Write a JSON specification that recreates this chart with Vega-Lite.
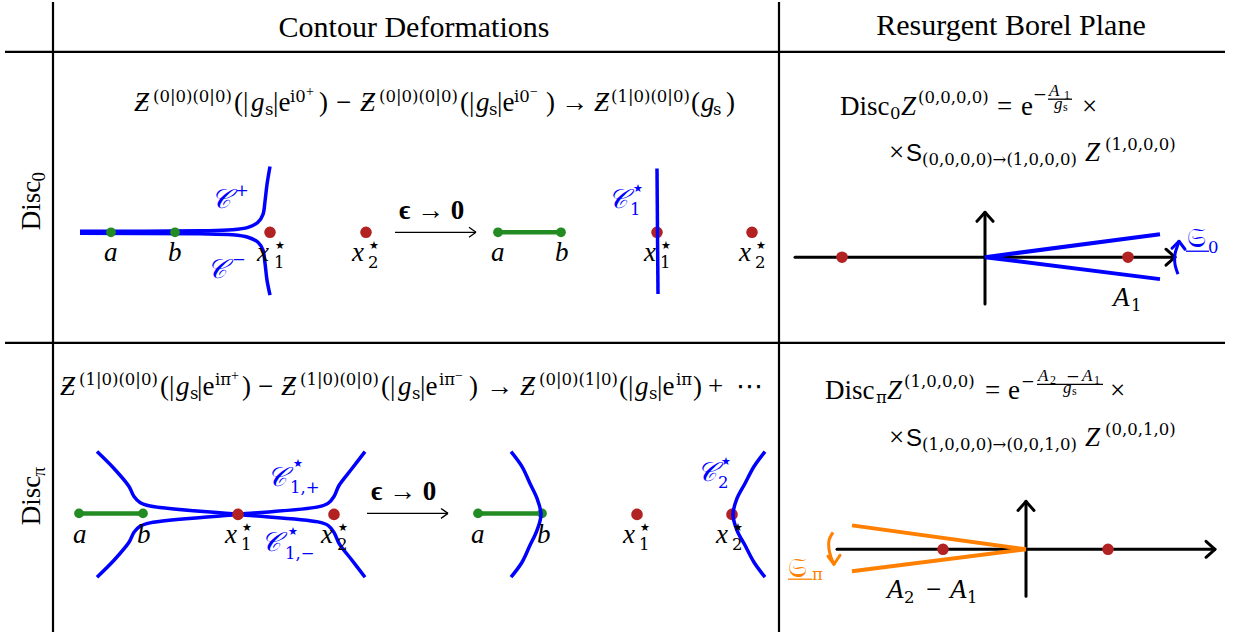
{
"$schema":"https://vega.github.io/schema/vega-lite/v6.json",
"width":1236,"height":639,
"autosize":{"type":"fit","contains":"padding"},
"padding":0,
"background":"#ffffff",
"config":{"view":{"stroke":null}},
"datasets":{
"seg":[
{"x":53,"y":0,"x2":53,"y2":632,"ink":"k","pen":"table"},
{"x":779,"y":0,"x2":779,"y2":632,"ink":"k","pen":"table"},
{"x":5,"y":50,"x2":1225,"y2":50,"ink":"k","pen":"table"},
{"x":5,"y":342,"x2":1225,"y2":342,"ink":"k","pen":"table"},
{"x":795,"y":256,"x2":1174,"y2":256,"ink":"k","pen":"axis"},
{"x":985,"y":303,"x2":985,"y2":212,"ink":"k","pen":"axis"},
{"x":837,"y":549,"x2":1214,"y2":549,"ink":"k","pen":"axis"},
{"x":1026,"y":596,"x2":1026,"y2":502,"ink":"k","pen":"axis"},
{"x":1175,"y":256,"x2":1166,"y2":248,"ink":"k","pen":"axis"},
{"x":1175,"y":256,"x2":1166,"y2":264,"ink":"k","pen":"axis"},
{"x":985,"y":211,"x2":977,"y2":220,"ink":"k","pen":"axis"},
{"x":985,"y":211,"x2":993,"y2":220,"ink":"k","pen":"axis"},
{"x":1215,"y":549,"x2":1206,"y2":541,"ink":"k","pen":"axis"},
{"x":1215,"y":549,"x2":1206,"y2":557,"ink":"k","pen":"axis"},
{"x":1026,"y":501,"x2":1018,"y2":510,"ink":"k","pen":"axis"},
{"x":1026,"y":501,"x2":1034,"y2":510,"ink":"k","pen":"axis"},
{"x":498,"y":231,"x2":561,"y2":231,"ink":"g","pen":"cut"},
{"x":79,"y":513,"x2":143,"y2":513,"ink":"g","pen":"cut"},
{"x":478,"y":513,"x2":542,"y2":513,"ink":"g","pen":"cut"},
{"x":985,"y":256,"x2":1160,"y2":233,"ink":"b","pen":"ray"},
{"x":985,"y":256,"x2":1160,"y2":278,"ink":"b","pen":"ray"},
{"x":1026,"y":549,"x2":852,"y2":525,"ink":"o","pen":"ray"},
{"x":1026,"y":549,"x2":852,"y2":571,"ink":"o","pen":"ray"},
{"x":1179,"y":240,"x2":1172,"y2":247,"ink":"b","pen":"arc"},
{"x":1179,"y":240,"x2":1185,"y2":248,"ink":"b","pen":"arc"},
{"x":834,"y":564,"x2":828,"y2":556,"ink":"o","pen":"arc"},
{"x":834,"y":564,"x2":840,"y2":555,"ink":"o","pen":"arc"},
{"x":395,"y":231,"x2":476,"y2":231,"ink":"k","pen":"thin"},
{"x":476,"y":231,"x2":469,"y2":226,"ink":"k","pen":"thin"},
{"x":476,"y":231,"x2":469,"y2":236,"ink":"k","pen":"thin"},
{"x":367,"y":513,"x2":448,"y2":513,"ink":"k","pen":"thin"},
{"x":448,"y":513,"x2":441,"y2":508,"ink":"k","pen":"thin"},
{"x":448,"y":513,"x2":441,"y2":518,"ink":"k","pen":"thin"},
{"x":1048,"y":97.5,"x2":1072,"y2":97.5,"ink":"k","pen":"thin"},
{"x":1037,"y":383.5,"x2":1103,"y2":383.5,"ink":"k","pen":"thin"},
{"x":1186,"y":250,"x2":1209,"y2":250,"ink":"b","pen":"thin"},
{"x":788,"y":579,"x2":812,"y2":579,"ink":"o","pen":"thin"},
{"x":657,"y":167,"x2":658,"y2":293,"ink":"b","pen":"over"}
],
"curve":[
{"id":"cp","i":0,"x":80,"y":230,"ink":"b","side":"L"},
{"id":"cp","i":1,"x":200,"y":229.5,"ink":"b","side":"L"},
{"id":"cp","i":2,"x":232,"y":228.5,"ink":"b","side":"L"},
{"id":"cp","i":3,"x":248,"y":226,"ink":"b","side":"L"},
{"id":"cp","i":4,"x":258,"y":221,"ink":"b","side":"L"},
{"id":"cp","i":5,"x":263,"y":213,"ink":"b","side":"L"},
{"id":"cp","i":6,"x":265,"y":200,"ink":"b","side":"L"},
{"id":"cp","i":7,"x":267,"y":183,"ink":"b","side":"L"},
{"id":"cp","i":8,"x":270,"y":165,"ink":"b","side":"L"},
{"id":"cm","i":0,"x":80,"y":232,"ink":"b","side":"L"},
{"id":"cm","i":1,"x":200,"y":232.5,"ink":"b","side":"L"},
{"id":"cm","i":2,"x":232,"y":233.5,"ink":"b","side":"L"},
{"id":"cm","i":3,"x":248,"y":236,"ink":"b","side":"L"},
{"id":"cm","i":4,"x":258,"y":241,"ink":"b","side":"L"},
{"id":"cm","i":5,"x":263,"y":249,"ink":"b","side":"L"},
{"id":"cm","i":6,"x":265,"y":262,"ink":"b","side":"L"},
{"id":"cm","i":7,"x":267,"y":279,"ink":"b","side":"L"},
{"id":"cm","i":8,"x":270,"y":294,"ink":"b","side":"L"},
{"id":"c1p","i":0,"x":97,"y":451,"ink":"b","side":"L"},
{"id":"c1p","i":1,"x":114,"y":468,"ink":"b","side":"L"},
{"id":"c1p","i":2,"x":129,"y":486,"ink":"b","side":"L"},
{"id":"c1p","i":3,"x":134,"y":496,"ink":"b","side":"L"},
{"id":"c1p","i":4,"x":140,"y":502,"ink":"b","side":"L"},
{"id":"c1p","i":5,"x":150,"y":505.5,"ink":"b","side":"L"},
{"id":"c1p","i":6,"x":238,"y":514,"ink":"b","side":"L"},
{"id":"c1p","i":7,"x":318,"y":521.5,"ink":"b","side":"L"},
{"id":"c1p","i":8,"x":328,"y":525,"ink":"b","side":"L"},
{"id":"c1p","i":9,"x":334,"y":532,"ink":"b","side":"L"},
{"id":"c1p","i":10,"x":339,"y":543,"ink":"b","side":"L"},
{"id":"c1p","i":11,"x":352,"y":560,"ink":"b","side":"L"},
{"id":"c1p","i":12,"x":365,"y":577,"ink":"b","side":"L"},
{"id":"c1m","i":0,"x":97,"y":577,"ink":"b","side":"L"},
{"id":"c1m","i":1,"x":114,"y":560,"ink":"b","side":"L"},
{"id":"c1m","i":2,"x":129,"y":542,"ink":"b","side":"L"},
{"id":"c1m","i":3,"x":134,"y":532,"ink":"b","side":"L"},
{"id":"c1m","i":4,"x":140,"y":526,"ink":"b","side":"L"},
{"id":"c1m","i":5,"x":150,"y":522.5,"ink":"b","side":"L"},
{"id":"c1m","i":6,"x":238,"y":514,"ink":"b","side":"L"},
{"id":"c1m","i":7,"x":318,"y":506.5,"ink":"b","side":"L"},
{"id":"c1m","i":8,"x":328,"y":503,"ink":"b","side":"L"},
{"id":"c1m","i":9,"x":334,"y":496,"ink":"b","side":"L"},
{"id":"c1m","i":10,"x":339,"y":485,"ink":"b","side":"L"},
{"id":"c1m","i":11,"x":352,"y":468,"ink":"b","side":"L"},
{"id":"c1m","i":12,"x":365,"y":451,"ink":"b","side":"L"},
{"id":"arcb","i":0,"x":511,"y":451,"ink":"b","side":"R"},
{"id":"arcb","i":1,"x":522,"y":466,"ink":"b","side":"R"},
{"id":"arcb","i":2,"x":530,"y":483,"ink":"b","side":"R"},
{"id":"arcb","i":3,"x":537,"y":498,"ink":"b","side":"R"},
{"id":"arcb","i":4,"x":541,"y":514,"ink":"b","side":"R"},
{"id":"arcb","i":5,"x":537,"y":530,"ink":"b","side":"R"},
{"id":"arcb","i":6,"x":530,"y":545,"ink":"b","side":"R"},
{"id":"arcb","i":7,"x":522,"y":562,"ink":"b","side":"R"},
{"id":"arcb","i":8,"x":511,"y":577,"ink":"b","side":"R"},
{"id":"arc2","i":0,"x":765,"y":451,"ink":"b","side":"R"},
{"id":"arc2","i":1,"x":754,"y":466,"ink":"b","side":"R"},
{"id":"arc2","i":2,"x":745,"y":483,"ink":"b","side":"R"},
{"id":"arc2","i":3,"x":737,"y":498,"ink":"b","side":"R"},
{"id":"arc2","i":4,"x":733,"y":514,"ink":"b","side":"R"},
{"id":"arc2","i":5,"x":737,"y":530,"ink":"b","side":"R"},
{"id":"arc2","i":6,"x":745,"y":545,"ink":"b","side":"R"},
{"id":"arc2","i":7,"x":754,"y":562,"ink":"b","side":"R"},
{"id":"arc2","i":8,"x":765,"y":577,"ink":"b","side":"R"},
{"id":"s0","i":0,"x":1178,"y":273,"ink":"b","side":"A"},
{"id":"s0","i":1,"x":1175,"y":263,"ink":"b","side":"A"},
{"id":"s0","i":2,"x":1175,"y":253,"ink":"b","side":"A"},
{"id":"s0","i":3,"x":1177,"y":246,"ink":"b","side":"A"},
{"id":"s0","i":4,"x":1179,"y":240,"ink":"b","side":"A"},
{"id":"sp","i":0,"x":833,"y":532,"ink":"o","side":"A"},
{"id":"sp","i":1,"x":829,"y":540,"ink":"o","side":"A"},
{"id":"sp","i":2,"x":829,"y":549,"ink":"o","side":"A"},
{"id":"sp","i":3,"x":831,"y":557,"ink":"o","side":"A"},
{"id":"sp","i":4,"x":834,"y":564,"ink":"o","side":"A"}
],
"gdot":[{"x":111,"y":231},{"x":175,"y":231},{"x":498,"y":231},{"x":561,"y":231},{"x":79,"y":513},{"x":143,"y":513},{"x":478,"y":513},{"x":542,"y":513}],
"rdot":[{"x":270,"y":231},{"x":366,"y":231},{"x":657,"y":231},{"x":752,"y":231},{"x":842,"y":256},{"x":1128,"y":256},{"x":238,"y":514},{"x":334,"y":514},{"x":637,"y":514},{"x":732,"y":514},{"x":943,"y":549},{"x":1108,"y":549}],
"head":[{"x":414,"y":35,"t":"Contour Deformations","ink":"k"},{"x":1011,"y":33,"t":"Resurgent Borel Plane","ink":"k"}],
"rm":[
{"x":234,"y":109,"t":"(|","ink":"k"},{"x":273,"y":109,"t":"|e","ink":"k"},{"x":319,"y":109,"t":")","ink":"k"},{"x":336,"y":109,"t":"−","ink":"k"},
{"x":460,"y":109,"t":"(|","ink":"k"},{"x":497,"y":109,"t":"|e","ink":"k"},{"x":546,"y":109,"t":")","ink":"k"},{"x":561,"y":109,"t":"→","ink":"k"},
{"x":691,"y":109,"t":"(","ink":"k"},{"x":726,"y":109,"t":")","ink":"k"},
{"x":160,"y":394,"t":"(|","ink":"k"},{"x":197,"y":394,"t":"|e","ink":"k"},{"x":242,"y":394,"t":")","ink":"k"},{"x":258,"y":394,"t":"−","ink":"k"},
{"x":381,"y":394,"t":"(|","ink":"k"},{"x":420,"y":394,"t":"|e","ink":"k"},{"x":469,"y":394,"t":")","ink":"k"},{"x":486,"y":394,"t":"→","ink":"k"},
{"x":619,"y":394,"t":"(|","ink":"k"},{"x":657,"y":394,"t":"|e","ink":"k"},{"x":693,"y":394,"t":")","ink":"k"},{"x":708,"y":394,"t":"+","ink":"k"},{"x":736,"y":394,"t":"⋯","ink":"k"},
{"x":840,"y":113,"t":"Disc","ink":"k"},{"x":997,"y":113,"t":"=","ink":"k"},{"x":1021,"y":113,"t":"e","ink":"k"},{"x":1082,"y":113,"t":"×","ink":"k"},{"x":889,"y":159,"t":"×","ink":"k"},
{"x":825,"y":398,"t":"Disc","ink":"k"},{"x":985,"y":398,"t":"=","ink":"k"},{"x":1008,"y":398,"t":"e","ink":"k"},{"x":1110,"y":398,"t":"×","ink":"k"},{"x":889,"y":445,"t":"×","ink":"k"},
{"x":926,"y":598,"t":"−","ink":"k"},
{"x":1187,"y":246,"t":"𝔖","ink":"b"},{"x":788,"y":577,"t":"𝔖","ink":"o"}
],
"it":[
{"x":134,"y":109,"t":"Ƶ","ink":"k"},{"x":360,"y":109,"t":"Ƶ","ink":"k"},{"x":594,"y":109,"t":"Ƶ","ink":"k"},
{"x":251,"y":109,"t":"g","ink":"k"},{"x":476,"y":109,"t":"g","ink":"k"},{"x":701,"y":109,"t":"g","ink":"k"},
{"x":60,"y":394,"t":"Ƶ","ink":"k"},{"x":281,"y":394,"t":"Ƶ","ink":"k"},{"x":520,"y":394,"t":"Ƶ","ink":"k"},
{"x":176,"y":394,"t":"g","ink":"k"},{"x":398,"y":394,"t":"g","ink":"k"},{"x":635,"y":394,"t":"g","ink":"k"},
{"x":901,"y":113,"t":"Z","ink":"k"},{"x":1085,"y":159,"t":"Z","ink":"k"},{"x":887,"y":398,"t":"Z","ink":"k"},{"x":1085,"y":445,"t":"Z","ink":"k"},
{"x":104,"y":260,"t":"a","ink":"k"},{"x":168,"y":260,"t":"b","ink":"k"},{"x":257,"y":260,"t":"x","ink":"k"},{"x":352,"y":260,"t":"x","ink":"k"},
{"x":491,"y":260,"t":"a","ink":"k"},{"x":555,"y":260,"t":"b","ink":"k"},{"x":644,"y":260,"t":"x","ink":"k"},{"x":739,"y":260,"t":"x","ink":"k"},
{"x":73,"y":543,"t":"a","ink":"k"},{"x":137,"y":543,"t":"b","ink":"k"},{"x":225,"y":543,"t":"x","ink":"k"},{"x":321,"y":543,"t":"x","ink":"k"},
{"x":471,"y":543,"t":"a","ink":"k"},{"x":537,"y":543,"t":"b","ink":"k"},{"x":623,"y":543,"t":"x","ink":"k"},{"x":716,"y":543,"t":"x","ink":"k"},
{"x":211,"y":207,"t":"𝒞","ink":"b"},{"x":207,"y":277,"t":"𝒞","ink":"b"},{"x":608,"y":207,"t":"𝒞","ink":"b"},
{"x":267,"y":486,"t":"𝒞","ink":"b"},{"x":261,"y":551,"t":"𝒞","ink":"b"},{"x":697,"y":481,"t":"𝒞","ink":"b"},
{"x":1113,"y":305,"t":"A","ink":"k"},{"x":887,"y":598,"t":"A","ink":"k"},{"x":950,"y":598,"t":"A","ink":"k"}
],
"sc":[
{"x":153,"y":100,"t":"(0|0)(0|0)","ink":"k"},{"x":379,"y":100,"t":"(0|0)(0|0)","ink":"k"},{"x":611,"y":100,"t":"(1|0)(0|0)","ink":"k"},
{"x":290,"y":100,"t":"i0","ink":"k"},{"x":514,"y":100,"t":"i0","ink":"k"},
{"x":265,"y":113,"t":"s","ink":"k"},{"x":489,"y":113,"t":"s","ink":"k"},{"x":713,"y":113,"t":"s","ink":"k"},
{"x":79,"y":384,"t":"(1|0)(0|0)","ink":"k"},{"x":300,"y":384,"t":"(1|0)(0|0)","ink":"k"},{"x":539,"y":384,"t":"(0|0)(1|0)","ink":"k"},
{"x":215,"y":384,"t":"iπ","ink":"k"},{"x":439,"y":384,"t":"iπ","ink":"k"},{"x":676,"y":384,"t":"iπ","ink":"k"},
{"x":190,"y":398,"t":"s","ink":"k"},{"x":412,"y":398,"t":"s","ink":"k"},{"x":649,"y":398,"t":"s","ink":"k"},
{"x":890,"y":117,"t":"0","ink":"k"},{"x":918,"y":101,"t":"(0,0,0,0)","ink":"k"},{"x":1033,"y":98,"t":"−","ink":"k"},
{"x":922,"y":164,"t":"(0,0,0,0)→(1,0,0,0)","ink":"k"},{"x":1105,"y":148,"t":"(1,0,0,0)","ink":"k"},
{"x":876,"y":402,"t":"π","ink":"k"},{"x":904,"y":386,"t":"(1,0,0,0)","ink":"k"},{"x":1021,"y":386,"t":"−","ink":"k"},
{"x":922,"y":449,"t":"(1,0,0,0)→(0,0,1,0)","ink":"k"},{"x":1105,"y":434,"t":"(0,0,1,0)","ink":"k"},
{"x":1066,"y":381,"t":"−","ink":"k"},
{"x":274,"y":267,"t":"1","ink":"k"},{"x":368,"y":267,"t":"2","ink":"k"},
{"x":660,"y":267,"t":"1","ink":"k"},{"x":755,"y":267,"t":"2","ink":"k"},
{"x":241,"y":550,"t":"1","ink":"k"},{"x":337,"y":550,"t":"2","ink":"k"},
{"x":639,"y":550,"t":"1","ink":"k"},{"x":732,"y":550,"t":"2","ink":"k"},
{"x":235,"y":195,"t":"+","ink":"b"},{"x":232,"y":264,"t":"−","ink":"b"},{"x":630,"y":214,"t":"1","ink":"b"},
{"x":290,"y":493,"t":"1,+","ink":"b"},{"x":285,"y":559,"t":"1,−","ink":"b"},
{"x":718,"y":488,"t":"2","ink":"b"},
{"x":1131,"y":310,"t":"1","ink":"k"},{"x":904,"y":603,"t":"2","ink":"k"},{"x":967,"y":603,"t":"1","ink":"k"},
{"x":1208,"y":252,"t":"0","ink":"b"},{"x":812,"y":580,"t":"π","ink":"o"}
],
"star":[
{"x":275,"y":248,"t":"★","ink":"k"},{"x":369,"y":248,"t":"★","ink":"k"},{"x":661,"y":248,"t":"★","ink":"k"},{"x":756,"y":248,"t":"★","ink":"k"},
{"x":242,"y":531,"t":"★","ink":"k"},{"x":338,"y":531,"t":"★","ink":"k"},{"x":640,"y":531,"t":"★","ink":"k"},{"x":733,"y":531,"t":"★","ink":"k"},
{"x":633,"y":191,"t":"★","ink":"b"},{"x":293,"y":466,"t":"★","ink":"b"},{"x":288,"y":535,"t":"★","ink":"b"},{"x":721,"y":464,"t":"★","ink":"b"}
],
"ss":[
{"x":306,"y":94,"t":"+","ink":"k"},{"x":530,"y":94,"t":"−","ink":"k"},{"x":231,"y":379,"t":"+","ink":"k"},{"x":455,"y":379,"t":"−","ink":"k"}
],
"ssi":[
{"x":1049,"y":94,"t":"A","ink":"k"},{"x":1054,"y":107,"t":"g","ink":"k"},
{"x":1038,"y":380,"t":"A","ink":"k"},{"x":1082,"y":380,"t":"A","ink":"k"},{"x":1063,"y":392,"t":"g","ink":"k"}
],
"tiny":[
{"x":1064,"y":97,"t":"1","ink":"k"},{"x":1063,"y":109,"t":"s","ink":"k"},
{"x":1050,"y":383,"t":"2","ink":"k"},{"x":1094,"y":383,"t":"1","ink":"k"},{"x":1072,"y":394,"t":"s","ink":"k"}
],
"bf":[{"x":399,"y":218,"t":"ϵ → 0","ink":"k"},{"x":371,"y":500,"t":"ϵ → 0","ink":"k"}],
"sf":[{"x":906,"y":159,"t":"S","ink":"k"},{"x":906,"y":445,"t":"S","ink":"k"}],
"rot":[{"x":40,"y":229,"t":"Disc","ink":"k"},{"x":40,"y":525,"t":"Disc","ink":"k"}],
"rotsc":[{"x":45,"y":180,"t":"0","ink":"k"},{"x":45,"y":476,"t":"π","ink":"k"}]
},
"encoding":{
"x":{"field":"x","type":"quantitative","scale":{"domain":[0,1236],"nice":false,"zero":false},"axis":null},
"y":{"field":"y","type":"quantitative","scale":{"domain":[0,639],"nice":false,"zero":false,"reverse":true},"axis":null}
},
"layer":[
{"data":{"name":"seg"},"transform":[{"filter":"datum.pen==='table'"}],"mark":{"type":"rule","strokeWidth":2.2},
 "encoding":{"x2":{"field":"x2"},"y2":{"field":"y2"},"color":{"field":"ink","type":"nominal","scale":{"domain":["k","b","o","g"],"range":["#000000","#0000ff","#ff8000","#228b22"]},"legend":null}}},
{"data":{"name":"seg"},"transform":[{"filter":"datum.pen==='axis'"}],"mark":{"type":"rule","strokeWidth":3,"strokeCap":"round"},
 "encoding":{"x2":{"field":"x2"},"y2":{"field":"y2"},"color":{"field":"ink","type":"nominal","scale":{"domain":["k","b","o","g"],"range":["#000000","#0000ff","#ff8000","#228b22"]},"legend":null}}},
{"data":{"name":"seg"},"transform":[{"filter":"datum.pen==='cut'"}],"mark":{"type":"rule","strokeWidth":4.5},
 "encoding":{"x2":{"field":"x2"},"y2":{"field":"y2"},"color":{"field":"ink","type":"nominal","scale":{"domain":["k","b","o","g"],"range":["#000000","#0000ff","#ff8000","#228b22"]},"legend":null}}},
{"data":{"name":"seg"},"transform":[{"filter":"datum.pen==='ray'"}],"mark":{"type":"rule","strokeWidth":4},
 "encoding":{"x2":{"field":"x2"},"y2":{"field":"y2"},"color":{"field":"ink","type":"nominal","scale":{"domain":["k","b","o","g"],"range":["#000000","#0000ff","#ff8000","#228b22"]},"legend":null}}},
{"data":{"name":"seg"},"transform":[{"filter":"datum.pen==='arc'"}],"mark":{"type":"rule","strokeWidth":3,"strokeCap":"round"},
 "encoding":{"x2":{"field":"x2"},"y2":{"field":"y2"},"color":{"field":"ink","type":"nominal","scale":{"domain":["k","b","o","g"],"range":["#000000","#0000ff","#ff8000","#228b22"]},"legend":null}}},
{"data":{"name":"seg"},"transform":[{"filter":"datum.pen==='thin'"}],"mark":{"type":"rule","strokeWidth":1.3},
 "encoding":{"x2":{"field":"x2"},"y2":{"field":"y2"},"color":{"field":"ink","type":"nominal","scale":{"domain":["k","b","o","g"],"range":["#000000","#0000ff","#ff8000","#228b22"]},"legend":null}}},
{"data":{"name":"curve"},"transform":[{"filter":"datum.side==='L'"}],"mark":{"type":"line","strokeWidth":3.5,"interpolate":"catmull-rom"},
 "encoding":{"detail":{"field":"id","type":"nominal"},"order":{"field":"i","type":"quantitative"},"color":{"field":"ink","type":"nominal","scale":{"domain":["k","b","o","g"],"range":["#000000","#0000ff","#ff8000","#228b22"]},"legend":null}}},
{"data":{"name":"curve"},"transform":[{"filter":"datum.side==='A'"}],"mark":{"type":"line","strokeWidth":3,"interpolate":"catmull-rom"},
 "encoding":{"detail":{"field":"id","type":"nominal"},"order":{"field":"i","type":"quantitative"},"color":{"field":"ink","type":"nominal","scale":{"domain":["k","b","o","g"],"range":["#000000","#0000ff","#ff8000","#228b22"]},"legend":null}}},
{"data":{"name":"gdot"},"mark":{"type":"circle","size":95,"color":"#228b22","opacity":1}},
{"data":{"name":"rdot"},"mark":{"type":"circle","size":135,"color":"#b22222","opacity":1}},
{"data":{"name":"curve"},"transform":[{"filter":"datum.side==='R'"}],"mark":{"type":"line","strokeWidth":3.5,"interpolate":"catmull-rom"},
 "encoding":{"detail":{"field":"id","type":"nominal"},"order":{"field":"i","type":"quantitative"},"color":{"field":"ink","type":"nominal","scale":{"domain":["k","b","o","g"],"range":["#000000","#0000ff","#ff8000","#228b22"]},"legend":null}}},
{"data":{"name":"seg"},"transform":[{"filter":"datum.pen==='over'"}],"mark":{"type":"rule","strokeWidth":3.5},
 "encoding":{"x2":{"field":"x2"},"y2":{"field":"y2"},"color":{"field":"ink","type":"nominal","scale":{"domain":["k","b","o","g"],"range":["#000000","#0000ff","#ff8000","#228b22"]},"legend":null}}},
{"data":{"name":"head"},"mark":{"type":"text","align":"center","baseline":"alphabetic","font":"Liberation Serif, DejaVu Serif","fontSize":30},
 "encoding":{"text":{"field":"t"},"color":{"field":"ink","type":"nominal","scale":{"domain":["k","b","o","g"],"range":["#000000","#0000ff","#ff8000","#228b22"]},"legend":null}}},
{"data":{"name":"rm"},"mark":{"type":"text","align":"left","baseline":"alphabetic","font":"Liberation Serif, DejaVu Serif, DejaVu Sans","fontSize":27},
 "encoding":{"text":{"field":"t"},"color":{"field":"ink","type":"nominal","scale":{"domain":["k","b","o","g"],"range":["#000000","#0000ff","#ff8000","#228b22"]},"legend":null}}},
{"data":{"name":"it"},"mark":{"type":"text","align":"left","baseline":"alphabetic","font":"Liberation Serif, DejaVu Serif, DejaVu Sans","fontStyle":"italic","fontSize":27},
 "encoding":{"text":{"field":"t"},"color":{"field":"ink","type":"nominal","scale":{"domain":["k","b","o","g"],"range":["#000000","#0000ff","#ff8000","#228b22"]},"legend":null}}},
{"data":{"name":"sc"},"mark":{"type":"text","align":"left","baseline":"alphabetic","font":"DejaVu Serif, DejaVu Sans","fontSize":16.5},
 "encoding":{"text":{"field":"t"},"color":{"field":"ink","type":"nominal","scale":{"domain":["k","b","o","g"],"range":["#000000","#0000ff","#ff8000","#228b22"]},"legend":null}}},
{"data":{"name":"star"},"mark":{"type":"text","align":"left","baseline":"alphabetic","font":"DejaVu Sans","fontSize":11},
 "encoding":{"text":{"field":"t"},"color":{"field":"ink","type":"nominal","scale":{"domain":["k","b","o","g"],"range":["#000000","#0000ff","#ff8000","#228b22"]},"legend":null}}},
{"data":{"name":"ss"},"mark":{"type":"text","align":"left","baseline":"alphabetic","font":"Liberation Serif, DejaVu Serif, DejaVu Sans","fontSize":14},
 "encoding":{"text":{"field":"t"},"color":{"field":"ink","type":"nominal","scale":{"domain":["k","b","o","g"],"range":["#000000","#0000ff","#ff8000","#228b22"]},"legend":null}}},
{"data":{"name":"ssi"},"mark":{"type":"text","align":"left","baseline":"alphabetic","font":"Liberation Serif, DejaVu Serif","fontStyle":"italic","fontSize":17},
 "encoding":{"text":{"field":"t"},"color":{"field":"ink","type":"nominal","scale":{"domain":["k","b","o","g"],"range":["#000000","#0000ff","#ff8000","#228b22"]},"legend":null}}},
{"data":{"name":"tiny"},"mark":{"type":"text","align":"left","baseline":"alphabetic","font":"Liberation Serif, DejaVu Serif","fontSize":12},
 "encoding":{"text":{"field":"t"},"color":{"field":"ink","type":"nominal","scale":{"domain":["k","b","o","g"],"range":["#000000","#0000ff","#ff8000","#228b22"]},"legend":null}}},
{"data":{"name":"bf"},"mark":{"type":"text","align":"left","baseline":"alphabetic","font":"Liberation Serif, DejaVu Serif, DejaVu Sans","fontWeight":"bold","fontSize":27},
 "encoding":{"text":{"field":"t"},"color":{"field":"ink","type":"nominal","scale":{"domain":["k","b","o","g"],"range":["#000000","#0000ff","#ff8000","#228b22"]},"legend":null}}},
{"data":{"name":"sf"},"mark":{"type":"text","align":"left","baseline":"alphabetic","font":"Liberation Sans, DejaVu Sans","fontSize":24},
 "encoding":{"text":{"field":"t"},"color":{"field":"ink","type":"nominal","scale":{"domain":["k","b","o","g"],"range":["#000000","#0000ff","#ff8000","#228b22"]},"legend":null}}},
{"data":{"name":"rot"},"mark":{"type":"text","align":"left","baseline":"alphabetic","font":"Liberation Serif, DejaVu Serif","fontSize":27,"angle":270},
 "encoding":{"text":{"field":"t"},"color":{"field":"ink","type":"nominal","scale":{"domain":["k","b","o","g"],"range":["#000000","#0000ff","#ff8000","#228b22"]},"legend":null}}},
{"data":{"name":"rotsc"},"mark":{"type":"text","align":"left","baseline":"alphabetic","font":"Liberation Serif, DejaVu Serif","fontSize":19,"angle":270},
 "encoding":{"text":{"field":"t"},"color":{"field":"ink","type":"nominal","scale":{"domain":["k","b","o","g"],"range":["#000000","#0000ff","#ff8000","#228b22"]},"legend":null}}}
]
}
